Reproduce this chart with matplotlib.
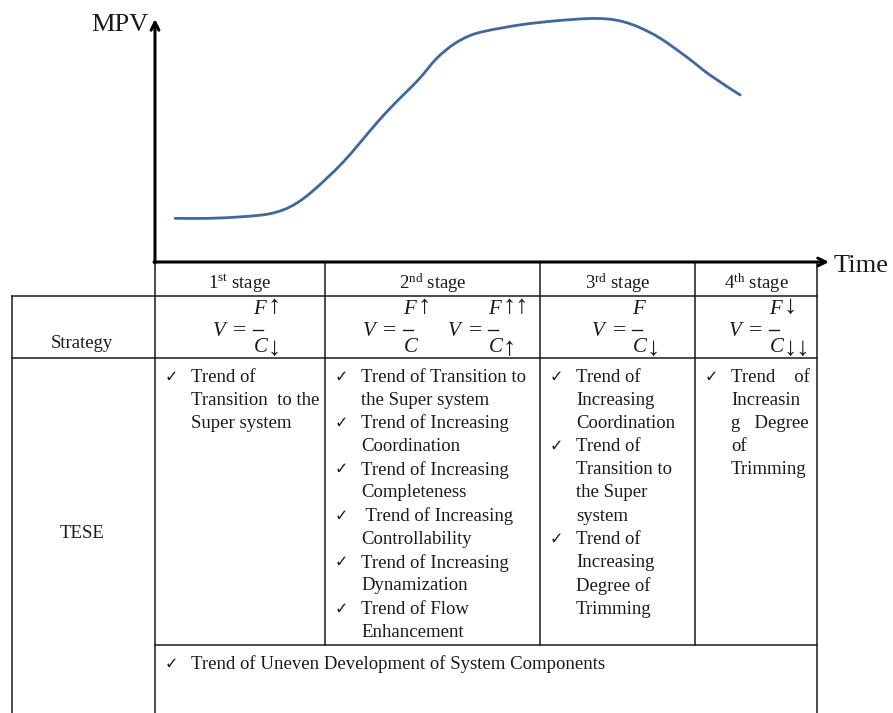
import numpy as np
import matplotlib.pyplot as plt
from matplotlib.path import Path
from matplotlib.patches import PathPatch

plt.rcParams['font.family'] = ['Liberation Serif', 'DejaVu Sans']
plt.rcParams['mathtext.fontset'] = 'custom'
plt.rcParams['mathtext.rm'] = 'Liberation Serif'
plt.rcParams['mathtext.it'] = 'Liberation Serif:italic'

# MPV curve (time and value in arbitrary units, 0-100)
time = [3.0, 8.2, 13.2, 16.7, 19.1, 21.1, 23.1, 25.6, 28.1, 30.5, 33.0, 35.5,
        39.2, 42.0, 44.5, 46.9, 49.4, 54.4, 59.4, 64.3, 67.3, 69.8, 72.3,
        75.3, 79.2, 82.7, 87.2]
mpv = [18.2, 18.2, 18.9, 19.9, 21.7, 24.5, 28.6, 34.9, 41.8, 49.5, 57.8, 65.4,
       75.8, 84.9, 90.7, 94.3, 96.3, 98.8, 100.4, 101.4, 101.3, 100.1, 97.6,
       93.2, 85.5, 77.9, 69.6]

stages = ['1', '2', '3', '4']
suffixes = ['st', 'nd', 'rd', 'th']
# V = F / C with the direction of change of F and C
strategies = [[('F', '↑', 'C', '↓')],
              [('F', '↑', 'C', ''), ('F', '↑↑', 'C', '↑')],
              [('F', '', 'C', '↓')],
              [('F', '↓', 'C', '↓↓')]]
trends = [
    [['Trend of', 'Transition  to the', 'Super system']],
    [['Trend of Transition to', 'the Super system'],
     ['Trend of Increasing', 'Coordination'],
     ['Trend of Increasing', 'Completeness'],
     [' Trend of Increasing', 'Controllability'],
     ['Trend of Increasing', 'Dynamization'],
     ['Trend of Flow', 'Enhancement']],
    [['Trend of', 'Increasing', 'Coordination'],
     ['Trend of', 'Transition to', 'the Super', 'system'],
     ['Trend of', 'Increasing', 'Degree of', 'Trimming']],
    [['Trend    of', 'Increasin', 'g   Degree', 'of', 'Trimming']],
]
common_trend = 'Trend of Uneven Development of System Components'

# column edges and row edges of the table (pixels)
col_x = [155, 325, 540, 695, 817]
left_x = 12
row_y = [262, 296, 358, 645, 713]
# left edge of each fraction bar
frac_x = [[253], [403, 488], [632], [769]]

fig = plt.figure(figsize=(8.93, 7.13), dpi=100)
ax = fig.add_axes([0, 0, 1, 1])
ax.set_xlim(0, 893)
ax.set_ylim(713, 0)
ax.axis('off')

ink = '#1a1a1a'
lw = 1.1

# curve area, drawn as a smooth line through the points
cx = fig.add_axes([155 / 893, (713 - 262) / 713, (826 - 155) / 893, (262 - 22) / 713])
cx.set_xlim(0, 100)
cx.set_ylim(0, 100)
cx.axis('off')
pts = np.column_stack([time, mpv])
verts = [pts[0]]
codes = [Path.MOVETO]
for i in range(len(pts) - 1):
    p0 = pts[max(i - 1, 0)]
    p1, p2 = pts[i], pts[i + 1]
    p3 = pts[min(i + 2, len(pts) - 1)]
    verts += [p1 + (p2 - p0) / 6, p2 - (p3 - p1) / 6, p2]
    codes += [Path.CURVE4] * 3
cx.add_patch(PathPatch(Path(verts, codes), fill=False, edgecolor='#41679b',
                       lw=2.0, capstyle='round', clip_on=False))

# axes arrows
ax.annotate('', xy=(155, 19), xytext=(155, 263),
            arrowprops=dict(arrowstyle='->', lw=2.2, color='black',
                            shrinkA=0, shrinkB=0, mutation_scale=14))
ax.annotate('', xy=(829, 262), xytext=(154, 262),
            arrowprops=dict(arrowstyle='->', lw=2.2, color='black',
                            shrinkA=0, shrinkB=0, mutation_scale=14))
ax.text(148, 25, 'MPV', fontsize=19, ha='right', va='center', color=ink)
ax.text(834, 266, 'Time', fontsize=19, ha='left', va='center', color=ink)

# table grid
for y in [row_y[1], row_y[2]]:
    ax.plot([left_x, col_x[-1]], [y, y], color=ink, lw=lw)
ax.plot([col_x[0], col_x[-1]], [row_y[3], row_y[3]], color=ink, lw=lw)
ax.plot([left_x, left_x], [row_y[1], row_y[4]], color=ink, lw=lw)
for x in [col_x[0], col_x[-1]]:
    ax.plot([x, x], [row_y[0], row_y[4]], color=ink, lw=lw)
for x in col_x[1:-1]:
    ax.plot([x, x], [row_y[0], row_y[3]], color=ink, lw=lw)

fs = 13.5
# stage headers
for i, (n, s) in enumerate(zip(stages, suffixes)):
    xc = (col_x[i] + col_x[i + 1]) / 2
    ax.text(xc, 283, n + r'$^{\mathrm{' + s + '}}$ stage', fontsize=fs,
            ha='center', va='center', color=ink)

# row labels
ax.text(82, 344, 'Strategy', fontsize=fs, ha='center', va='center', color=ink)
ax.text(82, 534, 'TESE', fontsize=fs, ha='center', va='center', color=ink)

# strategy formulas
ffs = 15
for forms, xbs in zip(strategies, frac_x):
    for (num, num_arr, den, den_arr), xb in zip(forms, xbs):
        ax.text(xb - 41, 331, '$V$', fontsize=ffs, ha='left', va='center', color=ink)
        ax.text(xb - 13, 331, '=', fontsize=ffs + 2, ha='center', va='center', color=ink)
        ax.plot([xb, xb + 10], [330, 330], color=ink, lw=1.0)
        ax.text(xb, 309, '$' + num + '$', fontsize=ffs, ha='left', va='center', color=ink)
        ax.text(xb, 348, '$' + den + '$', fontsize=ffs, ha='left', va='center', color=ink)
        if num_arr:
            ax.text(xb + 15, 307, num_arr, fontsize=19, ha='left', va='center',
                    color=ink, family='Liberation Serif')
        if den_arr:
            ax.text(xb + 15, 349, den_arr, fontsize=19, ha='left', va='center',
                    color=ink, family='Liberation Serif')

# trend lists
line_h = 23.2
for i, items in enumerate(trends):
    x0 = col_x[i]
    y = 377
    for item in items:
        ax.text(x0 + 10, y, '\u2713', fontsize=11.5, ha='left', va='center',
                family='DejaVu Sans', color=ink)
        for line in item:
            ax.text(x0 + 36, y, line, fontsize=fs, ha='left', va='center', color=ink)
            y += line_h

ax.text(col_x[0] + 10, 664, '\u2713', fontsize=11.5, ha='left', va='center',
        family='DejaVu Sans', color=ink)
ax.text(col_x[0] + 36, 664, common_trend, fontsize=fs, ha='left', va='center', color=ink)

fig.savefig('out.png', dpi=100)
